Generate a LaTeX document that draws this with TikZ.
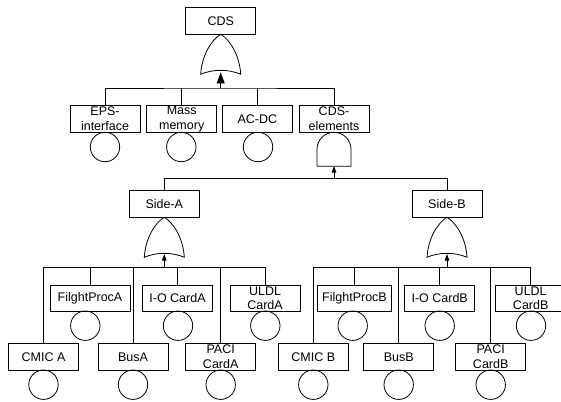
\documentclass[tikz,border=0pt]{standalone}
\usepackage{fontspec}
\setmainfont{Liberation Sans}
\usetikzlibrary{arrows.meta}
\begin{document}
\begin{tikzpicture}[x=1pt,y=-1pt,
  every node/.style={font=\fontsize{12.5}{14.7}\selectfont},
  wire/.style={line width=0.8pt, draw=black},
  box/.style={wire, rectangle, minimum width=70pt, minimum height=26.5pt,
              inner sep=0pt, align=center},
  event/.style={wire, circle, minimum size=29.4pt, inner sep=0pt},
  bigtip/.style={wire, -{Triangle[length=11pt,width=8pt]}},
  smalltip/.style={wire, -{Triangle[length=6.5pt,width=4.5pt]}},
  orgate/.pic={
    \draw[wire] (-20,40) .. controls (-19,22) and (-10,6) .. (0,0)
                .. controls (10,6) and (19,22) .. (20,40)
                .. controls (8,34.7) and (-8,34.7) .. cycle;
  },
  andgate/.pic={
    \draw[wire] (-17,34) -- (-17,17) .. controls (-17,7.6) and (-9.4,0) .. (0,0)
                .. controls (9.4,0) and (17,7.6) .. (17,17) -- (17,34) -- cycle;
  }
]
\useasboundingbox (0,0) rectangle (561,401);
\fill[white] (0,0) rectangle (561,401);

% top event and its OR gate
\node[box] (cds) at (220.7,20.8) {CDS};
\pic at (220.7,34.3) {orgate};
\coordinate (g1) at (220.7,72.5);
\coordinate (j1) at (220.7,88);

% second level
\node[box] (eps)   at (105,118.8)   {EPS-\\interface};
\node[box] (mass)  at (181.7,118.8) {Mass\\memory};
\node[box] (acdc)  at (257.3,118.8) {AC-DC};
\node[box] (cdsel) at (334,118.8)   {CDS-\\elements};
\node[event] (eeps)  at (105,147)   {};
\node[event] (emass) at (181.3,147) {};
\node[event] (eacdc) at (258,147)   {};
\pic at (334,132.3) {andgate};
\coordinate (g2) at (334,166);
\coordinate (j2) at (334,178.5);

\draw[wire] (eps.north) |- (j1) -| (cdsel.north);
\draw[wire] (mass.north) -- (mass.north |- j1);
\draw[wire] (acdc.north) -- (acdc.north |- j1);
\draw[bigtip] (j1) -- (g1);

% sides
\node[box] (sidea) at (164.3,204) {Side-A};
\node[box] (sideb) at (447,204)   {Side-B};
\draw[wire] (sidea.north) |- (j2) -| (sideb.north);
\draw[smalltip] (j2) -- (g2);

\pic at (164.3,217.3) {orgate};
\pic at (447,217.3) {orgate};
\coordinate (g3) at (164.3,254);
\coordinate (j3) at (164.3,267.5);
\coordinate (g4) at (447,254);
\coordinate (j4) at (447,267.5);
\draw[smalltip] (j3) -- (g3);
\draw[smalltip] (j4) -- (g4);

% side A leaves
\node[box, minimum width=80pt] (fpa) at (90,298.3) {FilghtProcA};
\node[box] (ioa)   at (177.5,298.3) {I-O CardA};
\node[box] (uldla) at (265,298.3)   {ULDL\\CardA};
\node[event] (efpa)   at (85.3,325.7)  {};
\node[event] (eioa)   at (178,325.7)   {};
\node[event] (euldla) at (265.3,325.7) {};
\node[box] (cmica) at (43.5,357)  {CMIC A};
\node[box] (busa)  at (133,357)   {BusA};
\node[box] (pacia) at (220.7,357) {PACI\\CardA};
\node[event] (ecmica) at (43.5,384.7)  {};
\node[event] (ebusa)  at (133,384.7)   {};
\node[event] (epacia) at (220.7,384.7) {};

\draw[wire] (cmica.north) |- (j3) -| (uldla.north);
\draw[wire] (fpa.north) -- (fpa.north |- j3);
\draw[wire] (busa.north) -- (busa.north |- j3);
\draw[wire] (ioa.north) -- (ioa.north |- j3);
\draw[wire] (pacia.north) -- (pacia.north |- j3);

% side B leaves
\node[box, minimum width=74pt] (fpb) at (354.5,298.3) {FilghtProcB};
\node[box] (iob)   at (439.7,298.3) {I-O CardB};
\node[box] (uldlb) at (530.7,298.3) {ULDL\\CardB};
\node[event] (efpb)   at (352.7,325.7) {};
\node[event] (eiob)   at (439.7,325.7) {};
\node[event] (euldlb) at (531,325.7)   {};
\node[box] (cmicb) at (313.3,357) {CMIC B};
\node[box] (busb)  at (398.7,357) {BusB};
\node[box] (pacib) at (490.7,357) {PACI\\CardB};
\node[event] (ecmicb) at (313.3,384.7) {};
\node[event] (ebusb)  at (398.7,384.7) {};
\node[event] (epacib) at (490.7,384.7) {};

\draw[wire] (cmicb.north) |- (j4) -| (uldlb.north);
\draw[wire] (fpb.north) -- (fpb.north |- j4);
\draw[wire] (busb.north) -- (busb.north |- j4);
\draw[wire] (iob.north) -- (iob.north |- j4);
\draw[wire] (pacib.north) -- (pacib.north |- j4);
\end{tikzpicture}
\end{document}
